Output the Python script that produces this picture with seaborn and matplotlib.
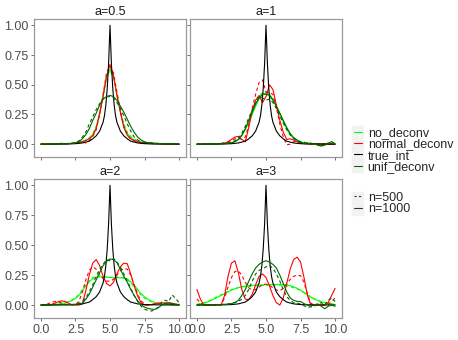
import numpy as np
import pandas as pd
import seaborn as sns
import matplotlib
matplotlib.use("Agg")
import matplotlib.pyplot as plt
from matplotlib.lines import Line2D
from matplotlib.patches import Rectangle
from matplotlib.ticker import FormatStrFormatter

# x grid shared by the estimated curves
x_grid = np.linspace(0, 10, 41)

# true intensity (same in every panel)
true_x = [0, 0.5, 1, 1.5, 2, 2.5, 3, 3.5, 3.75, 4, 4.25, 4.5, 4.6, 4.7, 4.8, 4.9, 5,
          5.1, 5.2, 5.3, 5.4, 5.5, 5.75, 6, 6.25, 6.5, 7, 7.5, 8, 8.5, 9, 9.5, 10]
true_y = [0.000, 0.001, 0.001, 0.002, 0.002, 0.004, 0.010, 0.025, 0.045, 0.070, 0.110,
          0.185, 0.240, 0.330, 0.470, 0.680, 1.000,
          0.680, 0.470, 0.330, 0.240, 0.185, 0.110, 0.070, 0.045, 0.025, 0.010,
          0.004, 0.002, 0.002, 0.001, 0.001, 0.000]

# a = 0.5
no_05_1000 = [0.000, 0.000, 0.001, 0.001, 0.001, 0.002, 0.002, 0.003, 0.005, 0.007,
              0.010, 0.015, 0.022, 0.032, 0.050, 0.080, 0.140, 0.250, 0.400, 0.560,
              0.630, 0.570, 0.420, 0.270, 0.160, 0.090, 0.055, 0.035, 0.022, 0.015,
              0.010, 0.007, 0.005, 0.004, 0.003, 0.002, 0.002, 0.001, 0.001, 0.001,
              0.000]
no_05_500 = [0.000, 0.001, 0.001, 0.002, 0.002, 0.003, 0.003, 0.004, 0.006, 0.008,
             0.012, 0.016, 0.024, 0.036, 0.055, 0.085, 0.150, 0.260, 0.410, 0.580,
             0.620, 0.560, 0.430, 0.280, 0.170, 0.100, 0.065, 0.042, 0.028, 0.018,
             0.012, 0.009, 0.006, 0.004, 0.003, 0.002, 0.002, 0.001, 0.001, 0.001,
             0.000]
normal_05_1000 = [0.000, 0.000, 0.000, 0.001, 0.001, 0.002, 0.002, 0.003, 0.005, 0.007,
                  0.010, 0.014, 0.020, 0.030, 0.045, 0.070, 0.130, 0.260, 0.400, 0.570,
                  0.670, 0.580, 0.410, 0.270, 0.140, 0.075, 0.045, 0.030, 0.020, 0.014,
                  0.010, 0.007, 0.005, 0.004, 0.003, 0.002, 0.002, 0.001, 0.001, 0.001,
                  0.000]
normal_05_500 = [0.000, 0.002, 0.000, 0.003, 0.001, 0.004, 0.008, 0.002, 0.004, 0.009,
                 0.006, 0.012, 0.018, 0.010, 0.030, 0.065, 0.120, 0.250, 0.420, 0.600,
                 0.660, 0.600, 0.440, 0.280, 0.150, 0.080, 0.040, 0.028, 0.022, 0.010,
                 0.014, 0.006, 0.012, 0.004, 0.006, 0.002, 0.004, 0.001, 0.003, 0.000,
                 0.001]
unif_05_1000 = [0.000, 0.001, 0.001, 0.002, 0.002, 0.002, 0.003, 0.003, 0.004, 0.005,
                0.010, 0.020, 0.045, 0.080, 0.130, 0.200, 0.260, 0.330, 0.380, 0.400,
                0.410, 0.400, 0.370, 0.320, 0.270, 0.210, 0.150, 0.100, 0.060, 0.035,
                0.020, 0.012, 0.010, 0.008, 0.006, 0.005, 0.004, 0.003, 0.002, 0.002,
                0.001]
unif_05_500 = [0.002, -0.002, 0.003, 0.000, 0.004, 0.001, 0.005, 0.002, 0.008, 0.006,
               0.015, 0.028, 0.060, 0.100, 0.170, 0.230, 0.290, 0.340, 0.380, 0.400,
               0.400, 0.390, 0.350, 0.300, 0.240, 0.170, 0.110, 0.060, 0.035, 0.020,
               0.015, 0.008, 0.012, 0.004, 0.010, 0.002, 0.008, 0.000, 0.006, -0.002,
               0.004]

# a = 1
no_1_1000 = [0.000, 0.000, 0.000, 0.001, 0.001, 0.002, 0.002, 0.003, 0.004, 0.006,
             0.010, 0.020, 0.040, 0.070, 0.120, 0.180, 0.250, 0.320, 0.380, 0.420,
             0.430, 0.420, 0.380, 0.320, 0.260, 0.190, 0.130, 0.080, 0.050, 0.030,
             0.020, 0.010, 0.006, 0.004, 0.003, 0.002, 0.002, 0.001, 0.001, 0.001,
             0.000]
no_1_500 = [0.000, 0.000, 0.001, 0.001, 0.002, 0.002, 0.003, 0.004, 0.005, 0.008,
            0.013, 0.025, 0.045, 0.080, 0.135, 0.200, 0.270, 0.340, 0.400, 0.435,
            0.440, 0.420, 0.370, 0.310, 0.240, 0.175, 0.120, 0.075, 0.045, 0.028,
            0.018, 0.010, 0.006, 0.004, 0.003, 0.002, 0.002, 0.001, 0.001, 0.001,
            0.000]
normal_1_1000 = [0.000, 0.000, 0.000, 0.000, 0.001, 0.001, 0.002, 0.004, 0.008, 0.020,
                 0.040, 0.060, 0.065, 0.040, 0.020, 0.140, 0.280, 0.370, 0.410, 0.350,
                 0.400, 0.500, 0.460, 0.330, 0.200, 0.100, 0.040, 0.045, 0.035, 0.020,
                 0.008, 0.004, 0.003, 0.002, 0.002, 0.001, 0.001, 0.001, 0.000, 0.000,
                 0.000]
normal_1_500 = [0.000, 0.000, 0.000, 0.001, 0.001, 0.002, 0.004, 0.008, 0.012, 0.020,
                0.030, 0.045, 0.050, 0.040, 0.060, 0.160, 0.300, 0.420, 0.520, 0.540,
                0.440, 0.430, 0.420, 0.310, 0.170, 0.060, -0.005, 0.000, 0.020, 0.025,
                0.015, 0.008, 0.004, 0.003, 0.002, 0.002, 0.001, 0.001, 0.000, 0.000,
                0.000]
unif_1_1000 = [0.000, 0.000, 0.000, 0.001, 0.001, 0.002, 0.002, 0.003, 0.005, 0.008,
               0.012, 0.022, 0.040, 0.075, 0.130, 0.200, 0.270, 0.340, 0.390, 0.420,
               0.420, 0.410, 0.370, 0.320, 0.260, 0.200, 0.140, 0.090, 0.055, 0.035,
               0.020, 0.005, 0.012, -0.004, 0.006, -0.010, -0.016, -0.008, 0.004, 0.022,
               0.002]
unif_1_500 = [0.001, -0.001, 0.002, 0.000, 0.003, 0.001, 0.004, 0.003, 0.007, 0.010,
              0.016, 0.028, 0.050, 0.090, 0.150, 0.220, 0.290, 0.350, 0.400, 0.390,
              0.370, 0.380, 0.350, 0.300, 0.240, 0.180, 0.125, 0.080, 0.050, 0.030,
              0.012, 0.018, 0.002, 0.010, -0.006, 0.004, -0.012, -0.004, 0.010, 0.014,
              0.004]

# a = 2
no_2_1000 = [0.001, 0.002, 0.003, 0.004, 0.006, 0.008, 0.012, 0.018, 0.026, 0.038,
             0.055, 0.080, 0.120, 0.160, 0.195, 0.220, 0.232, 0.236, 0.235, 0.232,
             0.230, 0.228, 0.228, 0.228, 0.225, 0.218, 0.195, 0.165, 0.130, 0.095,
             0.068, 0.048, 0.033, 0.022, 0.015, 0.010, 0.007, 0.005, 0.003, 0.002,
             0.001]
no_2_500 = [0.001, 0.002, 0.003, 0.005, 0.007, 0.010, 0.014, 0.020, 0.030, 0.044,
            0.062, 0.090, 0.130, 0.170, 0.205, 0.230, 0.242, 0.245, 0.240, 0.234,
            0.230, 0.232, 0.235, 0.234, 0.228, 0.212, 0.185, 0.150, 0.115, 0.083,
            0.058, 0.040, 0.028, 0.019, 0.013, 0.009, 0.006, 0.004, 0.003, 0.002,
            0.001]
normal_2_1000 = [0.000, 0.000, 0.000, 0.005, 0.015, 0.028, 0.035, 0.030, 0.015, 0.003,
                 0.000, 0.000, 0.010, 0.120, 0.250, 0.350, 0.380, 0.330, 0.240, 0.180,
                 0.160, 0.190, 0.260, 0.320, 0.350, 0.345, 0.260, 0.160, 0.075, 0.020,
                 0.000, 0.000, 0.005, 0.010, 0.015, 0.018, 0.018, 0.015, 0.012, 0.008,
                 0.005]
normal_2_500 = [0.000, 0.002, 0.010, 0.022, 0.030, 0.028, 0.018, 0.008, 0.002, 0.000,
                0.005, 0.030, 0.110, 0.210, 0.290, 0.320, 0.300, 0.260, 0.220, 0.200,
                0.200, 0.215, 0.250, 0.285, 0.305, 0.300, 0.250, 0.170, 0.090, 0.035,
                0.008, 0.000, 0.004, 0.010, 0.014, 0.016, 0.015, 0.012, 0.008, 0.005,
                0.003]
unif_2_1000 = [0.000, 0.000, 0.001, 0.001, 0.002, 0.002, 0.003, 0.003, 0.004, 0.005,
               0.006, 0.008, 0.015, 0.050, 0.090, 0.150, 0.210, 0.270, 0.330, 0.365,
               0.385, 0.380, 0.355, 0.300, 0.240, 0.190, 0.130, 0.080, 0.035, 0.005,
               -0.018, -0.028, -0.034, -0.036, -0.022, 0.000, 0.012, 0.020, 0.015, 0.006,
               0.002]
unif_2_500 = [0.002, -0.002, 0.003, 0.000, 0.004, 0.001, 0.005, 0.002, 0.006, 0.004,
              0.008, 0.015, 0.030, 0.060, 0.110, 0.170, 0.240, 0.300, 0.340, 0.380,
              0.370, 0.390, 0.360, 0.320, 0.260, 0.200, 0.140, 0.080, 0.030, -0.010,
              -0.035, -0.045, -0.050, -0.040, -0.015, 0.025, 0.040, 0.030, 0.085, 0.055,
              0.020]

# a = 3
no_3_1000 = [0.005, 0.010, 0.015, 0.025, 0.038, 0.052, 0.066, 0.080, 0.095, 0.110,
             0.124, 0.136, 0.146, 0.153, 0.158, 0.162, 0.165, 0.167, 0.168, 0.169,
             0.170, 0.171, 0.172, 0.172, 0.172, 0.171, 0.168, 0.162, 0.153, 0.140,
             0.125, 0.105, 0.085, 0.066, 0.050, 0.038, 0.028, 0.020, 0.013, 0.008,
             0.005]
no_3_500 = [0.006, 0.012, 0.019, 0.029, 0.042, 0.057, 0.072, 0.087, 0.102, 0.116,
            0.128, 0.138, 0.146, 0.151, 0.155, 0.158, 0.160, 0.162, 0.163, 0.164,
            0.165, 0.166, 0.167, 0.167, 0.166, 0.164, 0.160, 0.154, 0.145, 0.134,
            0.120, 0.103, 0.085, 0.068, 0.053, 0.040, 0.030, 0.022, 0.015, 0.010,
            0.006]
normal_3_1000 = [0.130, 0.050, 0.000, 0.000, 0.000, 0.000, 0.000, 0.000, 0.080, 0.240,
                 0.350, 0.370, 0.270, 0.130, 0.050, 0.045, 0.090, 0.170, 0.240, 0.260,
                 0.230, 0.160, 0.080, 0.020, 0.000, 0.060, 0.180, 0.300, 0.380, 0.400,
                 0.360, 0.230, 0.080, 0.000, 0.000, 0.000, 0.000, 0.000, 0.020, 0.080,
                 0.140]
normal_3_500 = [0.050, 0.020, 0.000, 0.000, 0.000, 0.000, 0.000, 0.000, 0.060, 0.150,
                0.230, 0.280, 0.285, 0.250, 0.190, 0.145, 0.125, 0.130, 0.150, 0.170,
                0.175, 0.165, 0.145, 0.125, 0.120, 0.140, 0.175, 0.215, 0.240, 0.250,
                0.245, 0.190, 0.090, 0.015, 0.000, 0.000, 0.000, 0.000, 0.005, 0.030,
                0.060]
unif_3_1000 = [0.000, 0.001, 0.002, 0.002, 0.003, 0.003, 0.004, 0.005, 0.006, 0.008,
               0.012, 0.022, 0.040, 0.080, 0.130, 0.200, 0.260, 0.310, 0.340, 0.360,
               0.370, 0.360, 0.340, 0.310, 0.250, 0.180, 0.110, 0.060, 0.040, 0.030,
               0.030, 0.012, 0.000, -0.010, 0.002, 0.010, -0.010, -0.030, -0.010, 0.000,
               -0.010]
unif_3_500 = [0.002, -0.001, 0.003, 0.000, 0.004, 0.002, 0.005, 0.003, 0.007, 0.010,
              0.014, 0.020, 0.030, 0.050, 0.080, 0.130, 0.200, 0.260, 0.290, 0.300,
              0.320, 0.330, 0.310, 0.260, 0.200, 0.130, 0.070, 0.040, 0.020, 0.015,
              0.010, -0.005, -0.020, -0.015, -0.010, 0.010, 0.020, 0.000, 0.040, 0.060,
              0.030]

panels = ["a=0.5", "a=1", "a=2", "a=3"]
methods = ["no_deconv", "normal_deconv", "true_int", "unif_deconv"]
sizes = ["n=500", "n=1000"]
colors = {"no_deconv": "#00ff00", "normal_deconv": "#ff0000",
          "true_int": "#000000", "unif_deconv": "#006400"}

curves = {
    "a=0.5": {"no_deconv": (no_05_500, no_05_1000),
              "normal_deconv": (normal_05_500, normal_05_1000),
              "unif_deconv": (unif_05_500, unif_05_1000)},
    "a=1": {"no_deconv": (no_1_500, no_1_1000),
            "normal_deconv": (normal_1_500, normal_1_1000),
            "unif_deconv": (unif_1_500, unif_1_1000)},
    "a=2": {"no_deconv": (no_2_500, no_2_1000),
            "normal_deconv": (normal_2_500, normal_2_1000),
            "unif_deconv": (unif_2_500, unif_2_1000)},
    "a=3": {"no_deconv": (no_3_500, no_3_1000),
            "normal_deconv": (normal_3_500, normal_3_1000),
            "unif_deconv": (unif_3_500, unif_3_1000)},
}

# long table
rows = []
for p in panels:
    for m in methods:
        if m == "true_int":
            for xv, yv in zip(true_x, true_y):
                rows.append((p, m, "n=1000", xv, yv))
            continue
        for n, vals in zip(sizes, curves[p][m]):
            for xv, yv in zip(x_grid, vals):
                rows.append((p, m, n, xv, yv))
df = pd.DataFrame(rows, columns=["a", "method", "n", "x", "y"])

sns.set_theme(style="white")
plt.rcParams["font.family"] = ["Liberation Sans", "DejaVu Sans"]

fig = plt.figure(figsize=(4.58, 3.40), dpi=100)
W, H = 458, 340
boxes = [(34, 19, 186, 157), (190, 19, 342, 157), (34, 179, 186, 318), (190, 179, 342, 318)]

for i, (p, (l, t, r, b)) in enumerate(zip(panels, boxes)):
    ax = fig.add_axes([l / W, 1 - b / H, (r - l) / W, (b - t) / H])
    sub = df[df["a"] == p]
    sns.lineplot(data=sub, x="x", y="y", hue="method", style="n",
                 hue_order=methods, style_order=sizes, palette=colors,
                 dashes={"n=500": (3, 2.5), "n=1000": ""},
                 estimator=None, sort=True, legend=False, lw=0.8, ax=ax)
    ax.set_xlim(-0.5, 10.5)
    ax.set_ylim(-0.108, 1.053)
    ax.set_xticks([0, 2.5, 5, 7.5, 10])
    ax.set_yticks([0, 0.25, 0.5, 0.75, 1.0])
    ax.xaxis.set_major_formatter(FormatStrFormatter("%.1f"))
    ax.yaxis.set_major_formatter(FormatStrFormatter("%.2f"))
    ax.set_xlabel("")
    ax.set_ylabel("")
    ax.set_title(p, fontsize=9, color="#1a1a1a", pad=3)
    ax.tick_params(axis="both", length=2.5, width=0.6, color="#555555",
                   labelsize=9, labelcolor="#4d4d4d", pad=1.5)
    ax.tick_params(axis="both", which="both", bottom=True, left=True)
    if i < 2:
        ax.tick_params(axis="x", labelbottom=False)
    if i % 2 == 1:
        ax.tick_params(axis="y", labelleft=False)
    for s in ax.spines.values():
        s.set_color("#999999")
        s.set_linewidth(0.9)
    ax.grid(False)

# legend key backgrounds
fig.patches.append(Rectangle((352 / W, 1 - 172 / H), 11 / W, 46 / H,
                             transform=fig.transFigure, color="#f2f2f2", zorder=0))
fig.patches.append(Rectangle((352 / W, 1 - 215 / H), 11 / W, 23 / H,
                             transform=fig.transFigure, color="#f2f2f2", zorder=0))

h1 = [Line2D([], [], color=colors[m], lw=0.8) for m in methods]
fig.legend(h1, methods, loc="center left", bbox_to_anchor=(354 / W, 1 - 150 / H),
           frameon=False, fontsize=9, handlelength=0.65, handletextpad=0.45,
           labelspacing=-0.05, borderpad=0, borderaxespad=0)
h2 = [Line2D([], [], color="#333333", lw=0.8, dashes=(2, 2)),
      Line2D([], [], color="#333333", lw=0.8)]
fig.legend(h2, sizes, loc="center left", bbox_to_anchor=(354 / W, 1 - 203.5 / H),
           frameon=False, fontsize=9, handlelength=0.65, handletextpad=0.45,
           labelspacing=-0.05, borderpad=0, borderaxespad=0)

fig.savefig("out.png", dpi=100)
